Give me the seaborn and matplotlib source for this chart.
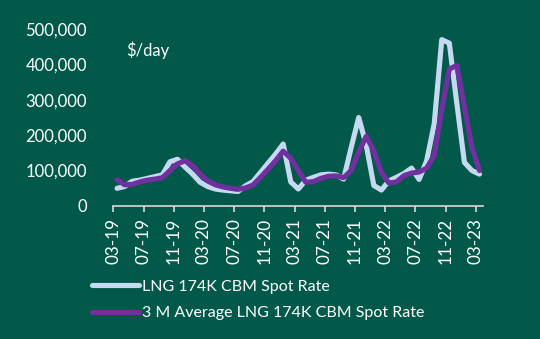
import numpy as np
import pandas as pd
import matplotlib
matplotlib.use("Agg")
import matplotlib.pyplot as plt
import seaborn as sns
from matplotlib.lines import Line2D

# monthly values, 03-19 .. 03-23
spot = [50000, 55000, 70000, 73000, 78000, 83000, 88000, 125000, 132000, 110000,
        90000, 67000, 55000, 48000, 45000, 43000, 41000, 57000, 69000, 95000,
        121000, 147000, 175000, 68000, 48000, 73000, 81000, 88000, 90000, 88000,
        76000, 165000, 250000, 172000, 58000, 45000, 71000, 81000, 92000, 107000,
        75000, 128000, 232000, 470000, 460000, 289000, 123000, 100000, 90000]
avg3m = [74000, 60000, 61000, 68000, 73000, 76000, 80000, 100000, 119000, 128000,
         114000, 90000, 71000, 60000, 54000, 50000, 47000, 51000, 59000, 81000,
         104000, 128000, 155000, 135000, 100000, 67000, 69000, 78000, 84000, 85000,
         80000, 100000, 152000, 197000, 156000, 95000, 65000, 68000, 86000, 93000,
         96000, 107000, 143000, 272000, 387000, 397000, 280000, 165000, 100000]
tick_labels = ["03-19", "07-19", "11-19", "03-20", "07-20", "11-20", "03-21",
               "07-21", "11-21", "03-22", "07-22", "11-22", "03-23"]
y_ticks = [0, 100000, 200000, 300000, 400000, 500000]
series_names = ["LNG 174K CBM Spot Rate", "3 M Average LNG 174K CBM Spot Rate"]
unit_label = "$/day"

BG = "#02594A"
BLUE = "#C6D9F1"
PURPLE = "#7030A0"
TXT = "#FFFFFF"
AXC = "#D9D9D9"

sns.set_theme(style="white")
plt.rcParams["font.family"] = ["Lato", "DejaVu Sans"]

n = len(spot)
pos = np.arange(n) + 0.5
df = pd.DataFrame({"x": np.concatenate([pos, pos]),
                   "value": spot + avg3m,
                   "series": [series_names[0]] * n + [series_names[1]] * n})

fig = plt.figure(figsize=(5.4, 3.39), dpi=100, facecolor=BG)
ax = fig.add_axes([113.3 / 540, 133 / 339, (483.3 - 113.3) / 540, 177 / 339])
ax.set_facecolor(BG)

sns.lineplot(data=df, x="x", y="value", hue="series",
             palette={series_names[0]: BLUE, series_names[1]: PURPLE},
             linewidth=3.7, ax=ax, legend=False, sort=False)
for ln in ax.lines:
    ln.set_solid_joinstyle("round")
    ln.set_solid_capstyle("round")

ax.set_xlim(0, 49)
ax.set_ylim(0, 500000)
ax.set_xticks(np.arange(0, 49, 4))
ax.set_xticklabels(tick_labels, rotation=90, color=TXT, fontsize=12.3)
ax.set_yticks(y_ticks)
ax.set_yticklabels([f"{v:,}" for v in y_ticks], color=TXT, fontsize=12)
ax.set_xlabel("")
ax.set_ylabel("")
for s in ["top", "right", "left"]:
    ax.spines[s].set_visible(False)
ax.spines["bottom"].set_color(AXC)
ax.spines["bottom"].set_linewidth(1.2)
ax.tick_params(axis="x", which="both", bottom=True, length=4, width=1.2,
               color=AXC, pad=4.5)
ax.tick_params(axis="y", left=False, pad=13)
ax.grid(False)

fig.text(126 / 540, 1 - 50 / 339, unit_label, color=TXT, fontsize=12, va="center", ha="left")

handles = [Line2D([], [], color=BLUE, lw=3.7, solid_capstyle="round"),
           Line2D([], [], color=PURPLE, lw=3.7, solid_capstyle="round")]
leg = fig.legend(handles, series_names, loc="upper left",
                 bbox_to_anchor=(86 / 540, 1 - 273 / 339), frameon=False,
                 fontsize=11.5, handlelength=2.9, handletextpad=0.2,
                 labelspacing=0.78, borderaxespad=0)
for t in leg.get_texts():
    t.set_color(TXT)

fig.savefig("out.png", dpi=100, facecolor=BG)
